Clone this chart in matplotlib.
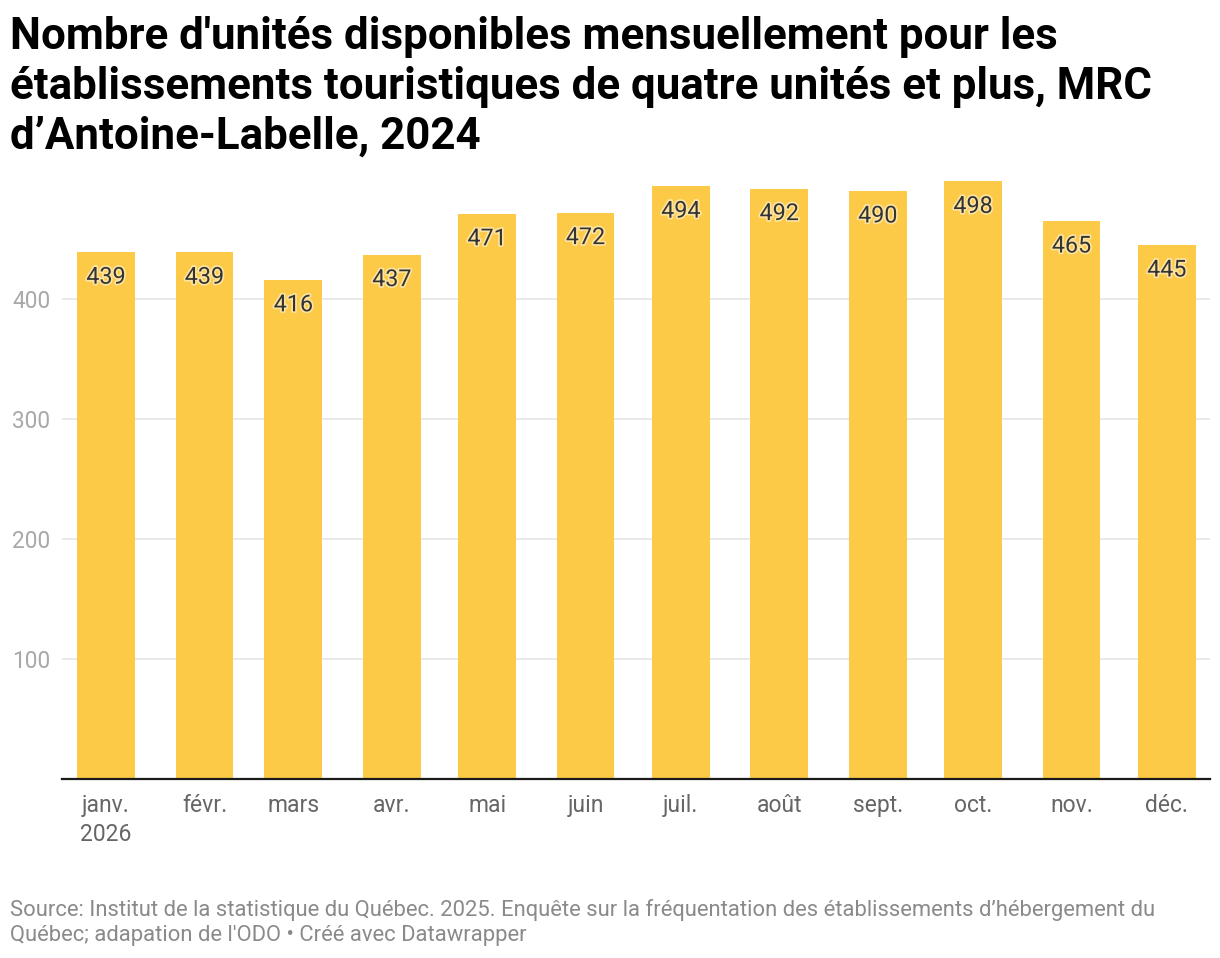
import matplotlib
matplotlib.use("Agg")
import matplotlib.pyplot as plt
import matplotlib.dates as mdates
import matplotlib.patheffects as pe
from datetime import datetime, timedelta

plt.rcParams['font.family'] = ['Roboto', 'DejaVu Sans']

months = [1, 2, 3, 4, 5, 6, 7, 8, 9, 10, 11, 12]
year = 2026
values = [439, 439, 416, 437, 471, 472, 494, 492, 490, 498, 465, 445]
month_labels = ["janv.\n2026", "févr.", "mars", "avr.", "mai", "juin", "juil.",
                "août", "sept.", "oct.", "nov.", "déc."]
yticks = [100, 200, 300, 400]

title = ("Nombre d'unités disponibles mensuellement pour les\n"
         "établissements touristiques de quatre unités et plus, MRC\n"
         "d’Antoine-Labelle, 2024")
source = ("Source: Institut de la statistique du Québec. 2025. Enquête sur la fréquentation des établissements d’hébergement du\n"
          "Québec; adapation de l'ODO • Créé avec Datawrapper")

dates = [datetime(year, m, 15) for m in months]
xnum = mdates.date2num(dates)

W, H = 1220, 958
fig = plt.figure(figsize=(W / 100, H / 100), dpi=100)
ax = fig.add_axes([62 / W, (H - 779) / H, (1210 - 62) / W, 600 / H])

bar_color = "#fcca46"
ax.bar(xnum, values, width=18.2, color=bar_color, zorder=2)

ax.set_ylim(0, 500)
ax.set_xlim(mdates.date2num(datetime(year, 1, 1)) + 0.15,
            mdates.date2num(datetime(year, 12, 29)) - 0.4)

ax.set_yticks(yticks)
ax.set_yticklabels([str(v) for v in yticks])
ax.grid(axis='y', color='#e3e3e3', linewidth=1.1, zorder=0)
ax.set_axisbelow(True)

ax.set_xticks(xnum)
ax.set_xticklabels(month_labels, linespacing=1.35)
ax.tick_params(axis='x', length=0, pad=10.5, labelsize=16.5, labelcolor='#666666')
ax.tick_params(axis='y', length=0, pad=8.5, labelsize=16.3, labelcolor='#a8a8a8')
for lab in ax.get_xticklabels():
    lab.set_va('top')

for s in ['top', 'right', 'left']:
    ax.spines[s].set_visible(False)
ax.spines['bottom'].set_color('#1a1a1a')
ax.spines['bottom'].set_linewidth(1.6)
ax.spines['bottom'].set_zorder(3)

for x, v in zip(xnum, values):
    ax.annotate(str(v), (x, v), xytext=(0, -18), textcoords='offset points',
                ha='center', va='center', fontsize=16.8, color='#333333', zorder=4,
                path_effects=[pe.withStroke(linewidth=2.5, foreground='#fde3a0')])

fig.text(10 / W, 1 - 16 / H, title, ha='left', va='top', fontsize=31.6,
         fontweight='bold', color='#000000', linespacing=1.24)
fig.text(10 / W, 1 - 899 / H, source, ha='left', va='top', fontsize=15.8,
         color='#8a8a8a', linespacing=1.28)

fig.savefig("out.png", dpi=100, facecolor='white')
